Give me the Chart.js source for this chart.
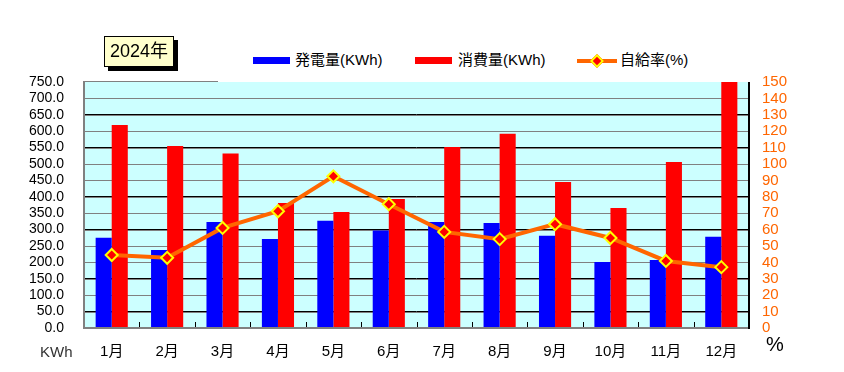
<!DOCTYPE html>
<html>
<head>
<meta charset="utf-8">
<script src="https://cdn.jsdelivr.net/npm/chart.js@4.4.1/dist/chart.umd.min.js"></script>
<style>
  body { margin:0; background:#fff; }
  #wrap { position:relative; width:844px; height:372px; font-family:"Liberation Sans","Noto Sans CJK JP",sans-serif; }
  #c { position:absolute; left:0; top:0; }
  .abs { position:absolute; white-space:nowrap; }
  #title { left:104px; top:36px; width:68px; height:29px; background:#ffffcc; border:1px solid #000; box-shadow:4px 4px 0 #000; font-size:18px; line-height:29px; text-align:center; }
  #legend { left:218px; top:40px; width:534px; height:42px; background:#fff; }
  .sw { position:absolute; height:7px; }
  .lt { position:absolute; font-size:15px; line-height:18px; top:11px; }
  #kwh { left:40px; top:343px; font-size:15px; color:#333; }
  #pct { left:766px; top:333px; font-size:20px; color:#000; }
</style>
</head>
<body>
<div id="wrap">
  <canvas id="c" width="844" height="372"></canvas>
  <div id="legend" class="abs">
    <div class="sw" style="left:35px;top:17px;width:37px;background:#0000ff"></div>
    <div class="lt" style="left:77px">発電量(KWh)</div>
    <div class="sw" style="left:197px;top:17px;width:37px;background:#ff0000"></div>
    <div class="lt" style="left:240px">消費量(KWh)</div>
    <div class="sw" style="left:359px;top:19px;width:40px;height:4px;background:#ff6600"></div>
    <div class="sw" style="left:374px;top:16px;width:6px;height:6px;background:#ff0000;border:2px solid #ffff00;transform:rotate(45deg)"></div>
    <div class="lt" style="left:402px">自給率(%)</div>
  </div>
  <div id="title" class="abs">2024年</div>
  <div id="kwh" class="abs">KWh</div>
  <div id="pct" class="abs">%</div>
</div>
<script>
// データ
var months = ["1月","2月","3月","4月","5月","6月","7月","8月","9月","10月","11月","12月"];
var hatsuden = [275, 238, 323, 271, 327, 297, 323, 320, 281, 201, 207, 278];
var shohi = [619, 555, 532, 381, 354, 393, 552, 592, 445, 366, 506, 750];
var jikyu = [44.5, 42.8, 61, 71.2, 92.5, 75.5, 58.6, 54.2, 63.3, 54.9, 40.9, 37.1];

Chart.defaults.font.family = '"Liberation Sans","Noto Sans CJK JP",sans-serif';

var plotDeco = {
  id: "plotDeco",
  beforeDraw: function(chart){
    var a = chart.chartArea, ctx = chart.ctx;
    ctx.save();
    ctx.fillStyle = "#ccffff";
    ctx.fillRect(a.left, a.top, a.right - a.left, a.bottom - a.top);
    // 上端の線
    ctx.fillStyle = "#808080";
    ctx.fillRect(a.left, a.top - 1, a.right - a.left, 1);
    ctx.restore();
  },
  beforeDatasetsDraw: function(chart){
    var a = chart.chartArea, ctx = chart.ctx, ys = chart.scales.y;
    ctx.save();
    ctx.fillStyle = "#808080";
    ys.ticks.forEach(function(t){
      if (t.value <= 0 || t.value >= 750) return;
      var py = Math.round(ys.getPixelForValue(t.value));
      ctx.fillRect(a.left, py, a.right - a.left, 1);
    });
    ctx.restore();
  },
  afterDatasetsDraw: function(chart){
    var a = chart.chartArea, ctx = chart.ctx, xs = chart.scales.x;
    ctx.save();
    ctx.fillStyle = "#808080";
    ctx.fillRect(a.left - 1, a.top - 1, 2, a.bottom - a.top + 2);
    ctx.fillRect(a.left - 1, a.bottom - 1, a.right - a.left + 1, 2);
    ctx.fillStyle = "#000";
    ctx.fillRect(a.right - 1, a.top, 2, a.bottom - a.top + 1);
    var w = (a.right - a.left) / months.length;
    for (var i = 1; i < months.length; i++) {
      var px = Math.round(xs.getPixelForValue(i) - w / 2);
      ctx.fillRect(px, a.bottom - 6, 1, 5);
    }
    ctx.restore();
  }
};

new Chart("c", {
  type: "bar",
  data: {
    labels: months,
    datasets: [
      { type: "line", label: "自給率(%)", data: jikyu, yAxisID: "y1", order: 0,
        borderColor: "#ff6600", borderWidth: 4, tension: 0,
        pointStyle: "rectRot", pointRadius: 6, pointBackgroundColor: "#ff0000",
        pointBorderColor: "#ffff00", pointBorderWidth: 2 },
      { label: "発電量(KWh)", data: hatsuden, backgroundColor: "#0000ff", yAxisID: "y", order: 1,
        categoryPercentage: 0.58, barPercentage: 1 },
      { label: "消費量(KWh)", data: shohi, backgroundColor: "#ff0000", yAxisID: "y", order: 1,
        categoryPercentage: 0.58, barPercentage: 1 }
    ]
  },
  options: {
    responsive: false,
    animation: false,
    devicePixelRatio: 1,
    layout: { padding: { top: 82, left: 0, right: 0, bottom: 0 } },
    plugins: { legend: { display: false }, tooltip: { enabled: false } },
    scales: {
      x: {
        grid: { display: false },
        border: { display: false },
        ticks: { color: "#000", font: { size: 15 }, padding: 7, autoSkip: false, maxRotation: 0 },
        afterFit: function(s){ s.height = 44; }
      },
      y: {
        position: "left", min: 0, max: 750,
        ticks: { stepSize: 50, autoSkip: false, color: "#000", font: { size: 14 }, padding: 20,
          callback: function(v){ return v.toFixed(1); } },
        grid: { drawTicks: false, lineWidth: 1,
          color: function(c){ return (c.tick && (c.tick.value <= 0 || c.tick.value >= 750)) ? "rgba(0,0,0,0)" : "#000"; } },
        border: { display: false },
        afterFit: function(s){ s.width = 84; }
      },
      y1: {
        position: "right", min: 0, max: 150,
        ticks: { stepSize: 10, autoSkip: false, color: "#ff6600", font: { size: 15 }, padding: 13 },
        grid: { drawOnChartArea: false, drawTicks: false },
        border: { display: false },
        afterFit: function(s){ s.width = 95; }
      }
    }
  },
  plugins: [plotDeco]
});
</script>
</body>
</html>
